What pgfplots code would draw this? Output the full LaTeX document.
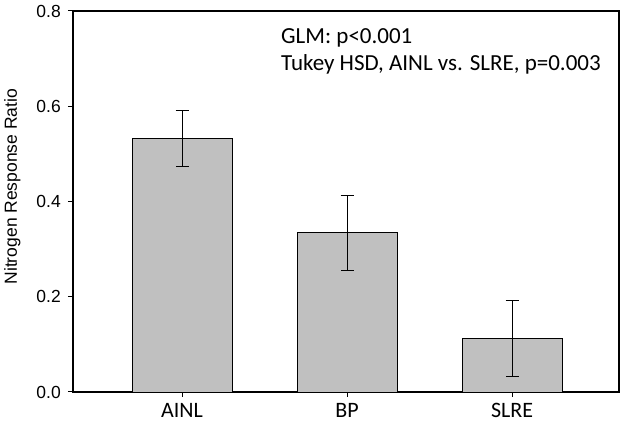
\documentclass[border=0pt]{standalone}
\usepackage{pgfplots}
\pgfplotsset{compat=1.18}
\usepackage{fontspec}
\setmainfont{Liberation Sans}
\newfontfamily\carlito{Carlito}
\definecolor{barfill}{HTML}{C0C0C0}
\begin{document}
\begin{tikzpicture}
\begin{axis}[
  scale only axis, width=546bp, height=381bp,
  xmin=-0.661, xmax=2.648, ymin=0, ymax=0.8,
  xtick={0,1,2}, xticklabels={AINL,BP,SLRE},
  ytick={0,0.2,0.4,0.6,0.8},
  /pgf/number format/.cd, fixed, fixed zerofill, precision=1, assume math mode=true, /pgfplots/.cd,
  tick align=outside, tick pos=left,
  major tick length=5bp,
  major tick style={black, line width=1bp},
  axis line style={line width=1.1bp},
  yticklabel style={font=\fontsize{17.5bp}{20bp}\selectfont, inner sep=0pt, anchor=east, xshift=-7bp},
  xticklabel style={font=\carlito\fontsize{22bp}{26bp}\selectfont, inner sep=0pt, anchor=north, yshift=-6bp},
  ylabel={Nitrogen Response Ratio},
  ylabel style={at={(axis description cs:0,0.539)}, anchor=north, yshift=69bp, inner sep=0pt, font=\fontsize{17.5bp}{20bp}\selectfont},
]
\addplot[ybar, bar width=0.606, fill=barfill, draw=black, line width=0.9bp,
  error bars/.cd, y dir=both, y explicit,
  error bar style={line width=1bp, black},
  error mark options={rotate=90, line width=1bp, mark size=6.5bp, black}]
  coordinates {(0,0.532) += (0,0.059) -= (0,0.059)
               (1,0.335) += (0,0.077) -= (0,0.079)
               (2,0.113) += (0,0.080) -= (0,0.081)};
\node[anchor=north west, inner sep=0pt, align=left, font=\carlito\fontsize{23bp}{27bp}\selectfont]
  at (axis description cs:0.381,0.955) {GLM: p<0.001\\Tukey HSD, AINL vs. SLRE, p=0.003};
\coordinate (ll) at (rel axis cs:0,0);
\coordinate (ur) at (rel axis cs:1,1);
\end{axis}
\pgfresetboundingbox
\path ([shift={(-73bp,-30bp)}]ll) rectangle ([shift={(5bp,11bp)}]ur);
\end{tikzpicture}
\end{document}
